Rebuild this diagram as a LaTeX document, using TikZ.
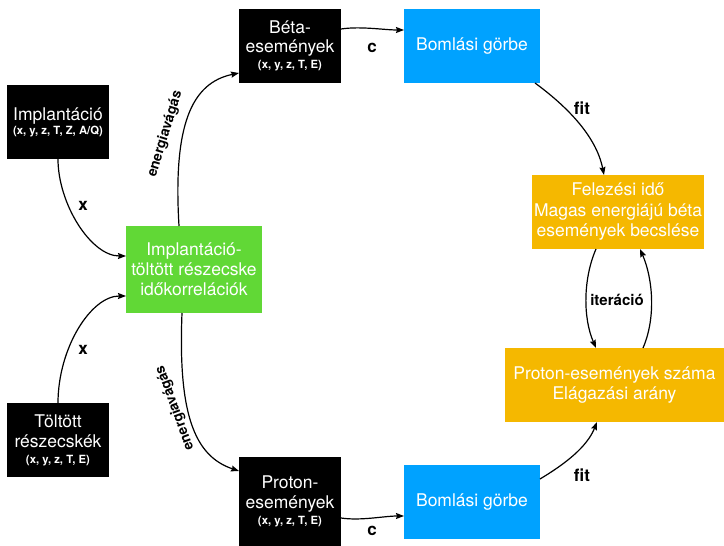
\documentclass[tikz,border=0pt]{standalone}
\usepackage{fontspec}
\setmainfont{TeX Gyre Heros}
\usetikzlibrary{arrows.meta,calc}
\definecolor{bgreen}{HTML}{61D836}
\definecolor{bblue}{HTML}{00A2FF}
\definecolor{borange}{HTML}{F5B800}
\newcommand\myMain{\fontsize{17.5}{20}\selectfont}
\newcommand\mySub{\fontsize{11.3}{14}\selectfont\bfseries}
\newcommand\myLab{\fontsize{17}{18}\selectfont\bfseries}
\begin{document}
\begin{tikzpicture}[x=1pt,y=-1pt,
  box/.style={inner sep=0pt, outer sep=0pt, text=white, align=center, font=\myMain},
  blk/.style={box, fill=black, minimum width=102pt, minimum height=74pt},
  arr/.style={line width=1.2pt, -{Stealth[length=8pt,width=6pt,inset=1pt]}},
  lab/.style={font=\myLab, text=black, inner sep=0pt},
  elab/.style={font=\fontsize{14}{16}\selectfont\bfseries, text=black, inner sep=0pt}]
\useasboundingbox (0,0) rectangle (724,546);
\fill[white] (0,0) rectangle (724,546);

\node[blk] (impl) at (58,122) {Implantáció\\[-6pt]{\mySub (x, y, z, T, Z, A/Q)}};
\node[blk] (tolt) at (58,440) {Töltött\\részecskék\\[-4pt]{\mySub (x, y, z, T, E)}};
\node[box, fill=bgreen, minimum width=136pt, minimum height=87pt] (green) at (194,269.5)
  {Implantáció-\\töltött részecske\\időkorrelációk};
\node[blk] (beta) at (290,46) {Béta-\\[-1pt]események\\[-4pt]{\mySub (x, y, z, T, E)}};
\node[blk, minimum height=89pt] (proton) at (290,501.5) {Proton-\\események\\[-4pt]{\mySub (x, y, z, T, E)}};
\node[box, fill=bblue, minimum width=136pt, minimum height=74pt] (blue1) at (472,46) {Bomlási görbe};
\node[box, fill=bblue, minimum width=136pt, minimum height=74pt] (blue2) at (472,502) {Bomlási görbe};
\node[box, fill=borange, minimum width=172pt, minimum height=74pt] (or1) at (618,212)
  {Felezési idő\\[0.5pt]Magas energiájú béta\\[0.5pt]események becslése};
\node[box, fill=borange, minimum width=219pt, minimum height=74pt] (or2) at (614.5,385)
  {Proton-események száma\\Elágazási arány};

% connectors
\draw[arr] (impl.south) .. controls +(0,45) and +(-35,0) .. ($(green.west)+(0,-13.5)$);
\draw[arr] (tolt.north) .. controls +(0,-55) and +(-35,0) .. ($(green.west)+(0,26.5)$);
\draw[arr] ($(green.north)+(-15,0)$) .. controls +(-6,-100) and +(-48,10) .. ($(beta.west)+(0,27)$);
\draw[arr] ($(green.south)+(-12,0)$) .. controls +(-4,100) and +(-45,-15) .. ($(proton.west)+(0,-30.5)$);
\draw[arr] ($(beta.east)+(0,-17)$) .. controls +(20,-3) and +(-20,0) .. ($(blue1.west)+(0,-16)$);
\draw[arr] ($(proton.east)+(0,16.5)$) .. controls +(20,3) and +(-20,0) .. ($(blue2.west)+(0,14)$);
\draw[arr] ($(blue1.south)+(63,0)$) .. controls +(30,22) and +(-8,-40) .. ($(or1.north)+(-14,0)$);
\draw[arr] ($(blue2.east)+(0,-23)$) .. controls +(25,-15) and +(-10,25) .. ($(or2.south)+(-17.5,0)$);
\draw[arr] ($(or1.south)+(-22,0)$) .. controls +(-13,30) and +(-13,-30) .. ($(or2.north)+(-18.5,0)$);
\draw[arr] ($(or2.north)+(28.5,0)$) .. controls +(13,-30) and +(13,30) .. ($(or1.south)+(22,0)$);

% labels
\node[lab] (lx1) at (83,206) {x};
\node[lab] (lx2) at (83,350) {x};
\node[lab] (lc1) at (372,48) {c};
\node[lab] (lc2) at (372,531) {c};
\node[lab] (lf1) at (582,108) {fit};
\node[lab] (lf2) at (582,475) {fit};
\node[lab, font=\fontsize{15}{16}\selectfont\bfseries] (lit) at (617,300) {iteráció};
\node[elab, rotate=73] (le1) at (165,134) {energiavágás};
\node[elab, rotate=110] (le2) at (175,408) {energiavágás};
\end{tikzpicture}
\end{document}
